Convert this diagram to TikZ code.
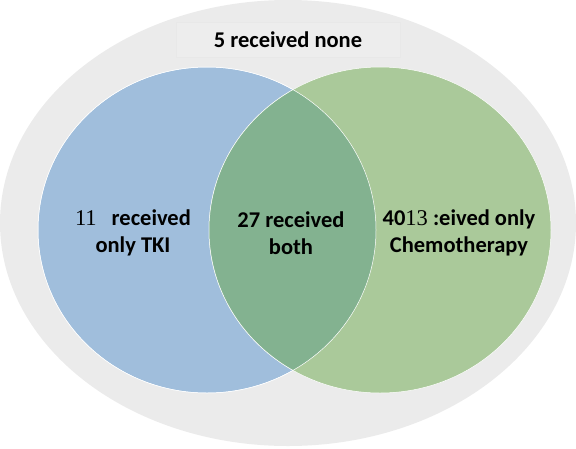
\documentclass[tikz,border=0pt]{standalone}
\usepackage{fontspec}
\setmainfont{Carlito}
\newfontfamily\numfont{Liberation Serif}
\usepackage{xcolor}
\definecolor{nonegray}{RGB}{235,235,235}
\definecolor{noneboxgray}{RGB}{237,237,237}
\definecolor{tkiblue}{RGB}{160,190,220}
\definecolor{chemogreen}{RGB}{170,201,154}
\definecolor{bothgreen}{RGB}{131,178,144}

\begin{document}
\begin{tikzpicture}[
			     x=1pt, y=-1pt,
			     set label/.style={font=\bfseries\fontsize{22.5}{27}\selectfont, align=center, inner sep=0pt},
			     set circle/.style={draw=white, line width=0.5pt}
			     ]
\useasboundingbox (0,0) rectangle (576,448);
% universe
\fill[nonegray] (288,223) ellipse [x radius=288, y radius=223];
\node[fill=noneboxgray, draw=black!9, line width=0.4pt, minimum width=224, minimum height=35] (nonebox) at (288,39.5) {};
\node[set label] (none) at (nonebox) {5 received none};
%
\coordinate (tki) at (207,230);
\coordinate (chemo) at (380,230);
\path[set circle, fill=tkiblue] (tki) ellipse [x radius=169, y radius=163];
\path[set circle, fill=chemogreen] (chemo) ellipse [x radius=171, y radius=163];
\begin{scope}
  \clip (tki) ellipse [x radius=169, y radius=163];
  \path[set circle, fill=bothgreen] (chemo) ellipse [x radius=171, y radius=163];
\end{scope}
\draw[white, line width=0.5pt] (tki) ellipse [x radius=169, y radius=163];
%
\node[set label] (onlytki) at (133,233) {{\numfont\mdseries 11}\hspace{15pt}received\\only TKI};
\node[set label] (both) at (291,233) {27 received\\both};
\node[set label] (onlychemo) at (459,233) {40{\numfont\mdseries 13} :eived only\\Chemotherapy};
\end{tikzpicture}
\end{document}
